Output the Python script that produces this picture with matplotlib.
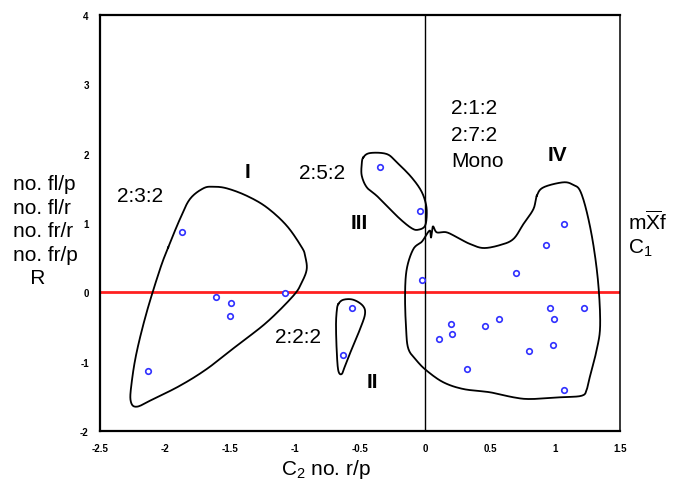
# Diagrama de dispersão com agrupamentos (C1 x C2)
import numpy as np
import matplotlib
matplotlib.use('Agg')
import matplotlib.pyplot as plt

plt.rcParams['font.family'] = ['Liberation Sans', 'DejaVu Sans']
plt.rcParams['mathtext.fontset'] = 'custom'
plt.rcParams['mathtext.rm'] = 'Liberation Sans'
plt.rcParams['mathtext.it'] = 'Liberation Sans:italic'

# Pontos (C2, C1) por grupo
grupo1_x = [-2.13, -1.87, -1.61, -1.49, -1.50, -1.08]
grupo1_y = [-1.14, 0.87, -0.07, -0.16, -0.34, -0.01]
grupo2_x = [-0.56, -0.63]
grupo2_y = [-0.23, -0.91]
grupo3_x = [-0.35, -0.04]
grupo3_y = [1.81, 1.18]
grupo4_x = [-0.02, 1.07, 0.93, 0.70, 0.96, 1.22, 0.99, 0.57, 0.46, 0.20, 0.21, 0.11, 0.80, 0.98, 0.32, 1.07]
grupo4_y = [0.18, 0.98, 0.68, 0.28, -0.23, -0.22, -0.39, -0.39, -0.49, -0.46, -0.60, -0.68, -0.84, -0.76, -1.11, -1.41]

# Contornos desenhados à mão em volta de cada grupo
contorno1 = [(-1.975, 0.649), (-1.885, 1.057), (-1.808, 1.346), (-1.705, 1.50), (-1.628, 1.523),
             (-1.525, 1.50), (-1.372, 1.393), (-1.218, 1.226), (-1.064, 0.961), (-0.948, 0.649),
             (-0.923, 0.528), (-0.91, 0.336), (-0.948, 0.144), (-1.013, -0.049), (-1.218, -0.433),
             (-1.448, -0.770), (-1.679, -1.106), (-1.885, -1.347), (-2.09, -1.539), (-2.218, -1.650),
             (-2.264, -1.564), (-2.256, -1.298), (-2.218, -0.865), (-2.141, -0.288), (-2.038, 0.336)]
contorno2 = [(-0.667, -0.169), (-0.628, -0.107), (-0.552, -0.107), (-0.479, -0.193), (-0.462, -0.313),
             (-0.50, -0.529), (-0.564, -0.818), (-0.615, -1.059), (-0.641, -1.178), (-0.667, -1.131),
             (-0.679, -0.865), (-0.685, -0.482), (-0.679, -0.265)]
contorno3 = [(-0.475, 1.947), (-0.423, 2.009), (-0.295, 1.995), (-0.218, 1.875), (-0.115, 1.682),
             (-0.038, 1.49), (0.0, 1.321), (0.013, 1.154), (0.0, 0.961), (-0.052, 0.903),
             (-0.102, 0.923), (-0.192, 1.057), (-0.295, 1.249), (-0.372, 1.393), (-0.448, 1.514),
             (-0.487, 1.682), (-0.487, 1.851)]
contorno4 = [(0.859, 1.393), (0.91, 1.514), (1.064, 1.587), (1.141, 1.548), (1.192, 1.465),
             (1.244, 1.154), (1.295, 0.672), (1.333, 0.095), (1.346, -0.482), (1.321, -0.818),
             (1.269, -1.203), (1.244, -1.395), (1.205, -1.491), (1.038, -1.514), (0.808, -1.539),
             (0.679, -1.514), (0.50, -1.442), (0.295, -1.395), (0.141, -1.298), (0.013, -1.131),
             (-0.064, -0.987), (-0.128, -0.818), (-0.146, -0.529), (-0.154, -0.049), (-0.141, 0.336),
             (-0.09, 0.625), (-0.025, 0.730), (0.013, 0.841), (0.038, 0.889), (0.046, 0.79),
             (0.06, 0.95), (0.09, 0.865), (0.167, 0.865), (0.269, 0.769), (0.346, 0.697), (0.448, 0.639),
             (0.577, 0.682), (0.679, 0.769), (0.756, 0.985), (0.833, 1.201)]

xticks = [-2.5, -2, -1.5, -1, -0.5, 0, 0.5, 1, 1.5]
xtick_labels = ['-2.5', '-2', '-1.5', '-1', '-0.5', '0', '0.5', '1', '1.5']
yticks = [-2, -1, 0, 1, 2, 3, 4]
ytick_labels = ['-2', '-1', '0', '1', '2', '3', '4']


def suaviza(pontos, n=12):
    # spline Catmull-Rom fechada, só para o traçado ficar curvo
    p = np.array(pontos)
    m = len(p)
    out = []
    for i in range(m):
        p0, p1, p2, p3 = p[i - 1], p[i], p[(i + 1) % m], p[(i + 2) % m]
        for t in np.linspace(0, 1, n, endpoint=False):
            t2, t3 = t * t, t * t * t
            out.append(0.5 * (2 * p1 + (-p0 + p2) * t + (2 * p0 - 5 * p1 + 4 * p2 - p3) * t2
                              + (-p0 + 3 * p1 - 3 * p2 + p3) * t3))
    out.append(out[0])
    return np.array(out)


fig = plt.figure(figsize=(6.8, 4.85), dpi=100)
ax = fig.add_axes([0.147, 0.1093, 0.765, 0.8577])

ax.axhline(0, color='#ff2020', linewidth=2, zorder=1)
ax.axvline(0, color='black', linewidth=1, zorder=1)

for c in [contorno1, contorno2, contorno3, contorno4]:
    s = suaviza(c)
    ax.plot(s[:, 0], s[:, 1], color='black', linewidth=1.3, zorder=2)

for gx, gy in [(grupo1_x, grupo1_y), (grupo2_x, grupo2_y), (grupo3_x, grupo3_y), (grupo4_x, grupo4_y)]:
    ax.plot(gx, gy, linestyle='none', marker='o', markersize=4, markerfacecolor='white',
            markeredgecolor='#3030ff', markeredgewidth=1.2, zorder=3)

ax.set_xlim(-2.5, 1.5)
ax.set_ylim(-2, 4)
ax.set_xticks(xticks)
ax.set_xticklabels(xtick_labels)
ax.set_yticks(yticks)
ax.set_yticklabels(ytick_labels)
ax.tick_params(length=0, labelsize=7)
ax.tick_params(axis='x', pad=9)
ax.tick_params(axis='y', pad=8)
for lab in ax.get_xticklabels() + ax.get_yticklabels():
    lab.set_fontweight('bold')
for sp in ax.spines.values():
    sp.set_linewidth(1.6)
ax.spines['right'].set_linewidth(1.1)

# Rótulos dos grupos
fs = 15
ax.text(-2.19, 1.39, '2:3:2', fontsize=fs, ha='center', va='center')
ax.text(-1.365, 1.74, 'I', fontsize=fs, fontweight='bold', ha='center', va='center')
ax.text(-0.79, 1.73, '2:5:2', fontsize=fs, ha='center', va='center')
ax.text(-0.51, 1.01, 'III', fontsize=fs, fontweight='bold', ha='center', va='center')
ax.text(-0.975, -0.63, '2:2:2', fontsize=fs, ha='center', va='center')
ax.text(-0.405, -1.29, 'II', fontsize=fs, fontweight='bold', ha='center', va='center')
ax.text(0.2, 2.283, '2:1:2\n2:7:2\nMono', fontsize=fs, ha='left', va='center', linespacing=1.47)
ax.text(1.02, 1.995, 'IV', fontsize=fs, fontweight='bold', ha='center', va='center')

# Rótulos fora do gráfico
fig.text(13 / 680, 1 - 231.7 / 485, 'no. fl/p\nno. fl/r\nno. fr/r\nno. fr/p\n   R', fontsize=fs,
         ha='left', va='center', linespacing=1.29)
fig.text(628 / 680, 1 - 221.7 / 485, r'm$\overline{\mathrm{X}}$f', fontsize=fs, ha='left', va='center')
fig.text(628 / 680, 1 - 248.3 / 485, r'C$_1$', fontsize=fs, ha='left', va='center')
fig.text(326 / 680, 1 - 470 / 485, r'C$_2$ no. r/p', fontsize=fs, ha='center', va='center')

fig.savefig('out.png', dpi=100)
